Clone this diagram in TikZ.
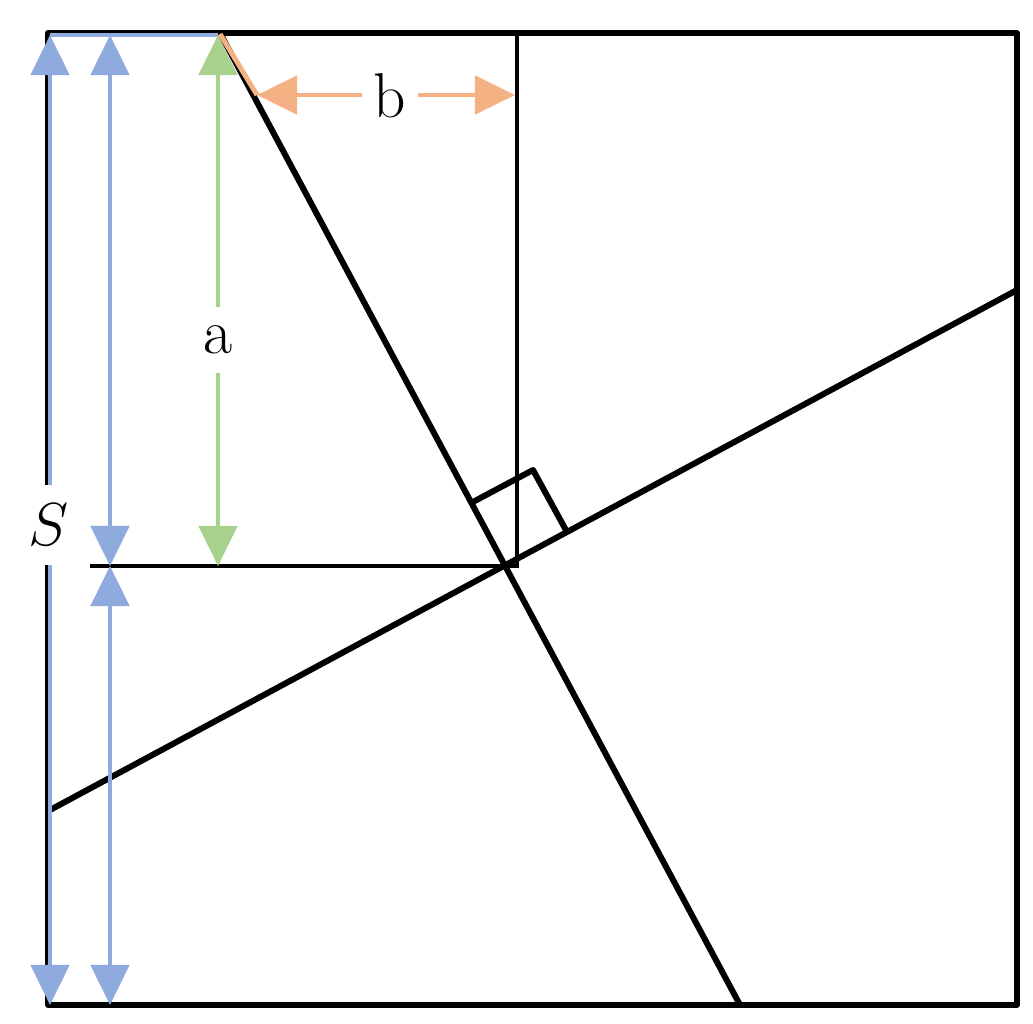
\documentclass[tikz,border=0pt]{standalone}
\usetikzlibrary{arrows.meta}
\definecolor{cblue}{HTML}{8FAADC}
\definecolor{cgreen}{HTML}{A9D18E}
\definecolor{corange}{HTML}{F4B183}
\tikzset{
  sqline/.style={line width=1.5pt, black, line join=round},
  diagline/.style={line width=1.7pt, black},
  thinline/.style={line width=1.1pt, black},
  tip/.tip={Triangle[length=0.4cm,width=0.38cm]},
  dimblue/.style={line width=1.4pt, cblue, tip-tip},
  dimgreen/.style={line width=1.4pt, cgreen, tip-tip},
  dimorange/.style={line width=1.4pt, corange, tip-tip},
  lbl/.style={fill=white, inner sep=0pt, font=\fontsize{18}{20}\selectfont},
}
\begin{document}
\begin{tikzpicture}[x=0.01cm, y=-0.01cm]
\useasboundingbox (0,0) rectangle (1033,1024);
% corners
\coordinate (TL) at (48,33);
\coordinate (TR) at (1017,33);
\coordinate (BR) at (1017,1005);
\coordinate (BL) at (48,1005);
% key points
\coordinate (P) at (505,566);
\coordinate (D1a) at (220,33);
\coordinate (D1b) at (740,1005);
\coordinate (D2a) at (50,810);
\coordinate (D2b) at (1017,290);
\coordinate (VT) at (517,33);
\coordinate (VB) at (517,566);
\coordinate (HL) at (90,566);
% square
\draw[sqline] (TL) -- (TR) -- (BR) -- (BL) -- cycle;
% inner square lines
\draw[thinline] (VT) -- (VB) -- (HL);
% diagonals
\draw[diagline] (D1a) -- (D1b);
\draw[diagline] (D2a) -- (D2b);
% right angle marker
\coordinate (RA1) at (471,503);
\coordinate (RA2) at (533,470);
\coordinate (RA3) at (567,532);
\draw[diagline, line join=round] (RA1) -- (RA2) -- (RA3);
% blue top line
\coordinate (BT1) at (50,35);
\coordinate (BT2) at (218,35);
\draw[line width=1.4pt, cblue] (BT1) -- (BT2);
% blue S arrow
\coordinate (S1) at (50,35);
\coordinate (S2) at (50,1005);
\draw[dimblue] (S1) -- (S2);
% blue inner arrows
\coordinate (B1) at (110,35);
\coordinate (B2) at (110,566);
\coordinate (B3) at (110,1005);
\draw[dimblue] (B1) -- (B2);
\draw[dimblue] (B2) -- (B3);
% green arrow a
\coordinate (G1) at (218,35);
\coordinate (G2) at (218,566);
\draw[dimgreen] (G1) -- (G2);
% orange b
\coordinate (O0) at (220,34);
\coordinate (O1) at (257,95);
\coordinate (O2) at (515,95);
\draw[line width=1.4pt, corange] (O0) -- (O1);
\draw[dimorange] (O1) -- (O2);
% labels
\node[lbl, minimum height=0.66cm, minimum width=0.5cm] (la) at (218,340) {a};
\node[lbl, minimum height=0.6cm, minimum width=0.55cm] (lb) at (390,96) {b};
\node[lbl, minimum height=0.8cm, minimum width=0.55cm] (lS) at (49,525) {$S$};
\end{tikzpicture}
\end{document}
